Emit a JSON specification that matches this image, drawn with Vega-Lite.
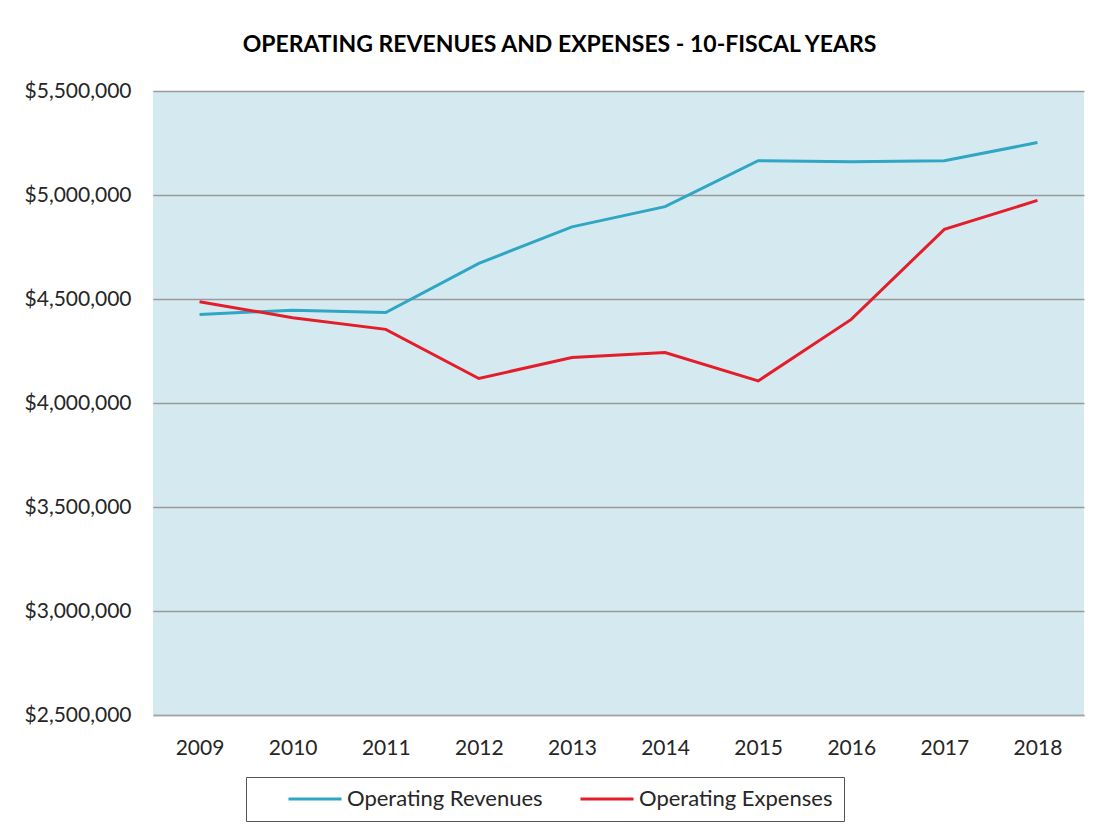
{
  "$schema": "https://vega.github.io/schema/vega-lite/v6.json",
  "width": 931,
  "height": 624,
  "autosize": {"type": "none"},
  "padding": {"left": 153, "top": 91, "right": 22, "bottom": 120},
  "background": "white",
  "title": {
    "text": "OPERATING REVENUES AND EXPENSES - 10-FISCAL YEARS",
    "font": "Lato",
    "fontSize": 23,
    "fontWeight": "bold",
    "color": "#000000",
    "anchor": "middle",
    "dx": -59,
    "offset": 23
  },
  "data": {
    "values": [
      {"year": "2009", "series": "Operating Revenues", "amount": 4426000},
      {"year": "2010", "series": "Operating Revenues", "amount": 4446000},
      {"year": "2011", "series": "Operating Revenues", "amount": 4435000},
      {"year": "2012", "series": "Operating Revenues", "amount": 4671000},
      {"year": "2013", "series": "Operating Revenues", "amount": 4847000},
      {"year": "2014", "series": "Operating Revenues", "amount": 4944000},
      {"year": "2015", "series": "Operating Revenues", "amount": 5165000},
      {"year": "2016", "series": "Operating Revenues", "amount": 5160000},
      {"year": "2017", "series": "Operating Revenues", "amount": 5165000},
      {"year": "2018", "series": "Operating Revenues", "amount": 5252000},
      {"year": "2009", "series": "Operating Expenses", "amount": 4487000},
      {"year": "2010", "series": "Operating Expenses", "amount": 4410000},
      {"year": "2011", "series": "Operating Expenses", "amount": 4354000},
      {"year": "2012", "series": "Operating Expenses", "amount": 4118000},
      {"year": "2013", "series": "Operating Expenses", "amount": 4219000},
      {"year": "2014", "series": "Operating Expenses", "amount": 4243000},
      {"year": "2015", "series": "Operating Expenses", "amount": 4106000},
      {"year": "2016", "series": "Operating Expenses", "amount": 4402000},
      {"year": "2017", "series": "Operating Expenses", "amount": 4835000},
      {"year": "2018", "series": "Operating Expenses", "amount": 4974000}
    ]
  },
  "mark": {"type": "line", "strokeWidth": 3, "strokeJoin": "miter"},
  "encoding": {
    "x": {
      "field": "year",
      "type": "ordinal",
      "scale": {"type": "point", "padding": 0.5},
      "axis": {
        "title": null,
        "labelAngle": 0,
        "ticks": false,
        "domain": true,
        "domainColor": "#a6a6a6",
        "domainWidth": 1.5,
        "labelFont": "Lato",
        "labelFontSize": 21,
        "labelColor": "#262626",
        "labelPadding": 22,
        "grid": false
      }
    },
    "y": {
      "field": "amount",
      "type": "quantitative",
      "scale": {"domain": [2500000, 5500000], "nice": false, "zero": false},
      "axis": {
        "title": null,
        "values": [2500000, 3000000, 3500000, 4000000, 4500000, 5000000, 5500000],
        "format": "$,.0f",
        "ticks": false,
        "domain": false,
        "grid": true,
        "gridColor": "#9a9a9a",
        "gridWidth": 1.3,
        "labelFont": "Lato",
        "labelFontSize": 21,
        "labelColor": "#262626",
        "labelPadding": 22
      }
    },
    "color": {
      "field": "series",
      "type": "nominal",
      "sort": ["Operating Revenues", "Operating Expenses"],
      "scale": {
        "domain": ["Operating Revenues", "Operating Expenses"],
        "range": ["#2fa6c4", "#e31e2a"]
      },
      "legend": {
        "title": null,
        "orient": "none",
        "legendX": 93,
        "legendY": 686,
        "direction": "horizontal",
        "symbolType": "M-3,0H3",
        "symbolSize": 313,
        "symbolStrokeWidth": 3,
        "symbolOffset": 47,
        "labelOffset": 21,
        "labelLimit": 400,
        "columnPadding": 6,
        "labelFont": "Lato",
        "labelFontSize": 22,
        "labelColor": "#262626",
        "padding": 11,
        "strokeColor": "#555555",
        "cornerRadius": 0
      }
    }
  },
  "config": {
    "view": {"fill": "#d5eaf0", "stroke": null}
  }
}
